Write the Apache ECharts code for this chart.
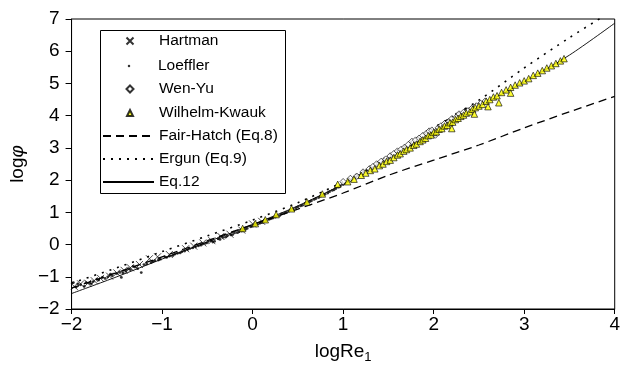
<!DOCTYPE html>
<html><head><meta charset="utf-8">
<script src="https://cdn.jsdelivr.net/npm/echarts@6/dist/echarts.min.js"></script>
<style>html,body{margin:0;padding:0;background:#fff}#c{width:623px;height:369px}</style>
</head><body><div id="c"></div>
<script>
// ---- data ----
const xTicks = [-2, -1, 0, 1, 2, 3, 4];
const yTicks = [-2, -1, 0, 1, 2, 3, 4, 5, 6, 7];

const hartman = [[-1.97,-1.3],[-1.9,-1.22],[-1.82,-1.2],[-1.75,-1.12],[-1.68,-1.05],[-1.58,-0.98],[-1.5,-0.88],[-1.42,-0.8],[-1.35,-0.72],[-1.25,-0.62],[-1.14,-0.44],[-1.05,-0.38],[-0.92,-0.31],[-0.74,-0.13],[-0.65,-0.05],[-0.55,0.05],[-0.45,0.12],[-0.35,0.25],[-0.25,0.32],[-0.12,0.45],[0.0,0.64],[0.1,0.72]];

const loeffler = [[-1.98,-1.18],[-1.95,-1.32],[-1.9,-1.25],[-1.86,-1.3],[-1.8,-1.2],[-1.76,-1.15],[-1.7,-1.1],[-1.66,-1.02],[-1.6,-1.0],[-1.55,-0.97],[-1.5,-0.9],[-1.45,-1.02],[-1.4,-0.82],[-1.35,-0.78],[-1.3,-0.7],[-1.27,-0.75],[-1.23,-0.87],[-1.2,-0.62],[-1.12,-0.56],[-1.08,-0.5],[-1.02,-0.45],[-0.97,-0.38],[-0.92,-0.36],[-0.86,-0.3],[-0.8,-0.26],[-0.75,-0.2],[-0.7,-0.12],[-0.66,-0.1],[-0.6,-0.04],[-0.55,0.02],[-0.5,0.06],[-0.46,0.12],[-0.42,0.1],[-0.38,0.18],[-0.33,0.22],[-0.28,0.27],[-0.24,0.3],[-0.2,0.36],[-0.15,0.4],[-0.1,0.45],[-0.06,0.5],[-0.02,0.55],[0.03,0.6],[0.08,0.66],[0.12,0.7],[0.18,0.78],[0.22,0.82],[0.27,0.88],[0.32,0.95],[0.37,1.0],[0.42,1.08],[0.48,1.14],[0.53,1.2],[0.58,1.28],[0.63,1.33],[0.68,1.4],[0.73,1.46],[0.78,1.53],[0.83,1.6],[0.88,1.68],[0.92,1.74],[0.97,1.82],[1.02,1.9],[1.08,2.0],[1.14,2.08],[1.2,2.2],[1.26,2.3],[1.32,2.38],[1.4,2.5],[1.48,2.62],
  [-1.93,-1.22],[-1.84,-1.18],[-1.78,-1.22],[-1.72,-1.08],[-1.63,-1.05],[-1.57,-0.92],[-1.47,-0.86],[-1.43,-0.88],[-1.37,-0.75],[-1.32,-0.68],[-1.17,-0.6],[-1.1,-0.52],[-1.04,-0.48],[-0.95,-0.4],[-0.88,-0.34],[-0.83,-0.27],[-0.78,-0.22],[-0.72,-0.16],[-0.63,-0.07],[-0.57,-0.02],[-0.52,0.04],[-0.44,0.08],[-0.36,0.16],[-0.3,0.23],[-0.22,0.31],[-0.17,0.37],[-0.12,0.42],[-0.08,0.47],[0.0,0.57],[0.05,0.62],[0.1,0.68],[0.15,0.73],[0.2,0.8],[0.25,0.85],[0.3,0.9],[0.35,0.97],[0.4,1.03],[0.45,1.1],[0.5,1.17],[0.55,1.22],[0.6,1.3],[0.65,1.36],[0.7,1.43],[0.75,1.5],[0.8,1.56],[0.85,1.64],[0.9,1.7],[0.95,1.78],[1.0,1.86],[1.05,1.95],[1.1,2.02],[1.17,2.14],[1.23,2.25],[1.3,2.35],[1.36,2.44],[1.44,2.57],[1.55,2.75],[1.65,2.92],[1.75,3.08],[1.85,3.28],[1.95,3.45],[2.05,3.68],[2.15,3.85],[2.25,4.05],[2.35,4.2]];

const wenYu = [[1.0,1.95],[1.08,2.05],[1.15,2.12],[1.22,2.25],[1.29,2.35],[1.33,2.42],[1.37,2.5],[1.42,2.58],[1.47,2.65],[1.52,2.75],[1.56,2.82],[1.6,2.9],[1.64,2.95],[1.68,3.02],[1.72,3.1],[1.76,3.2],[1.8,3.24],[1.84,3.3],[1.88,3.38],[1.92,3.45],[1.95,3.52],[1.98,3.55],[2.02,3.4],[2.05,3.62],[2.08,3.68],[2.12,3.75],[2.17,3.82],[2.2,3.9],[2.25,3.95],[2.28,4.05],[2.33,4.1],[2.38,4.15],[2.42,4.22],[2.47,4.3],[2.52,4.38],[2.57,4.45]];

const wilhelmKwauk = [[-0.11,0.5],[0.03,0.65],[0.14,0.77],[0.26,0.93],[0.43,1.11],[0.6,1.32],[0.77,1.57],[0.94,1.87],[1.05,1.95],[1.12,2.03],[1.2,2.15],[1.25,2.22],[1.3,2.3],[1.35,2.35],[1.4,2.45],[1.44,2.5],[1.48,2.58],[1.52,2.62],[1.56,2.7],[1.6,2.78],[1.63,2.82],[1.67,2.9],[1.7,2.95],[1.74,3.0],[1.78,3.08],[1.81,3.12],[1.85,3.2],[1.88,3.25],[1.91,3.3],[1.94,3.38],[1.97,3.4],[2.0,3.48],[2.03,3.5],[2.06,3.58],[2.09,3.6],[2.12,3.68],[2.15,3.7],[2.18,3.78],[2.21,3.8],[2.24,3.88],[2.27,3.92],[2.3,3.98],[2.33,4.02],[2.36,4.08],[2.4,4.12],[2.43,4.2],[2.46,4.25],[2.5,4.3],[2.54,4.35],[2.58,4.45],[2.62,4.5],[2.66,4.58],[2.7,4.62],[2.75,4.72],[2.8,4.8],[2.85,4.88],[2.9,4.95],[2.95,5.02],[3.0,5.08],[3.05,5.15],[3.1,5.25],[3.15,5.32],[3.2,5.4],[3.25,5.48],[3.3,5.55],[3.35,5.62],[3.4,5.7],[3.44,5.77],[2.72,4.4],[2.6,4.28],[2.45,4.05],[2.2,3.6],[2.85,4.7]];

const fairHatch = [[-2,-1.35],[-1.5,-0.87],[-1,-0.38],[-0.5,0.12],[0,0.62],[0.5,1.1],[1,1.6],[1.5,2.15],[2,2.62],[2.5,3.09],[3,3.62],[3.5,4.12],[4,4.6]];
const ergun = [[-2,-1.2],[-1.5,-0.72],[-1,-0.22],[-0.5,0.27],[0,0.76],[0.5,1.3],[1,1.95],[1.5,2.75],[2,3.62],[2.5,4.48],[3,5.48],[3.5,6.42],[4,7.3]];
const eq12 = [[-2,-1.52],[-1.5,-1.0],[-1,-0.45],[-0.5,0.08],[0,0.62],[0.5,1.2],[1,1.88],[1.5,2.68],[2,3.45],[2.5,4.28],[3,5.05],[3.5,5.88],[4,6.87]];

const FONT = 'Liberation Sans, Arial, sans-serif';
const fmt = v => String(v).replace('-', '\u2212');
const xPath = 'path://M0,0L10,10M10,0L0,10';
const legText = {fontFamily: FONT, fontSize: 15.5, color: '#000', lineHeight: 16};

function symLeg(name, top, size) {
  const shift = 158 - (129 + size / 2 + 5);
  return {
    data: [name], orient: 'vertical', left: 129 - size / 2, top: top, padding: 0,
    itemWidth: size, itemHeight: size, selectedMode: false,
    textStyle: Object.assign({}, legText, {padding: [0, 0, 0, shift]})
  };
}
function lineLeg(name, top) {
  return {
    data: [name], orient: 'vertical', left: 102, top: top, padding: 0,
    itemWidth: 51, itemHeight: 14, selectedMode: false,
    itemStyle: {opacity: 0, color: 'transparent', borderWidth: 0},
    textStyle: legText
  };
}

const chart = echarts.init(document.getElementById('c'), null, {renderer: 'canvas'});
chart.setOption({
  animation: false,
  backgroundColor: '#fff',
  grid: {left: 70, right: 7, top: 19, bottom: 55, show: true, borderColor: '#000', borderWidth: 1, backgroundColor: 'transparent'},
  xAxis: {
    type: 'value', min: -2, max: 4, interval: 1,
    name: '{a|logRe}{s|1}', nameLocation: 'middle', nameGap: 31,
    nameTextStyle: {rich: {a: {fontFamily: FONT, fontSize: 19, color: '#000', lineHeight: 24}, s: {fontFamily: FONT, fontSize: 13, color: '#000', lineHeight: 13, padding: [11,0,0,0]}}},
    axisLine: {onZero: false, lineStyle: {color: '#000', width: 1}},
    axisTick: {length: 5, lineStyle: {color: '#000'}},
    axisLabel: {fontFamily: FONT, fontSize: 19, color: '#000', margin: 6, formatter: fmt},
    splitLine: {show: false}
  },
  yAxis: {
    type: 'value', min: -2, max: 7, interval: 1,
    name: '{a|log}{b|\u03c6}', nameLocation: 'middle', nameGap: 44, nameRotate: 90,
    nameTextStyle: {rich: {a: {fontFamily: FONT, fontSize: 19, color: '#000'}, b: {fontFamily: FONT, fontSize: 19, color: '#000', fontStyle: 'italic'}}},
    axisLine: {onZero: false, lineStyle: {color: '#000', width: 1}},
    axisTick: {length: 6, lineStyle: {color: '#000'}},
    axisLabel: {fontFamily: FONT, fontSize: 19, color: '#000', margin: 12, formatter: fmt},
    splitLine: {show: false}
  },
  graphic: [{type: 'rect', shape: {x: 100.5, y: 30.5, width: 185, height: 163}, style: {fill: 'none', stroke: '#000', lineWidth: 1}, z: 100}],
  legend: [
    symLeg('Hartman', 33, 7),
    symLeg('Loeffler', 58, 2.5),
    symLeg('Wen-Yu', 81, 7),
    symLeg('Wilhelm-Kwauk', 105, 6),
    lineLeg('Fair-Hatch (Eq.8)', 128),
    lineLeg('Ergun (Eq.9)', 151),
    lineLeg('Eq.12', 174)
  ],
  series: [
    {name: 'Fair-Hatch (Eq.8)', type: 'line', data: fairHatch, symbol: 'none', smooth: 0.3, itemStyle: {color: '#000'}, lineStyle: {color: '#000', width: 1.3, type: [8,5]}, z: 3},
    {name: 'Ergun (Eq.9)', type: 'line', data: ergun, symbol: 'none', smooth: 0.3, itemStyle: {color: '#000'}, lineStyle: {color: '#000', width: 1.6, type: [2,6]}, z: 3},
    {name: 'Eq.12', type: 'line', data: eq12, symbol: 'none', smooth: 0.3, itemStyle: {color: '#000'}, lineStyle: {color: '#000', width: 0.9}, z: 3},
    {name: 'Hartman', type: 'scatter', data: hartman, symbol: xPath, symbolSize: 7, itemStyle: {color: 'transparent', borderColor: '#000', borderWidth: 0.9}, z: 4},
    {name: 'Loeffler', type: 'scatter', data: loeffler, symbol: 'circle', symbolSize: 2.8, itemStyle: {color: '#000'}, z: 4},
    {name: 'Wen-Yu', type: 'scatter', data: wenYu, symbol: 'diamond', symbolSize: 6.5, itemStyle: {color: '#fff', borderColor: '#000', borderWidth: 0.8}, z: 5},
    {name: 'Wilhelm-Kwauk', type: 'scatter', data: wilhelmKwauk, symbol: 'triangle', symbolSize: 6.5, itemStyle: {color: '#ffff00', borderColor: '#000', borderWidth: 0.8}, z: 6}
  ]
});
</script></body></html>
